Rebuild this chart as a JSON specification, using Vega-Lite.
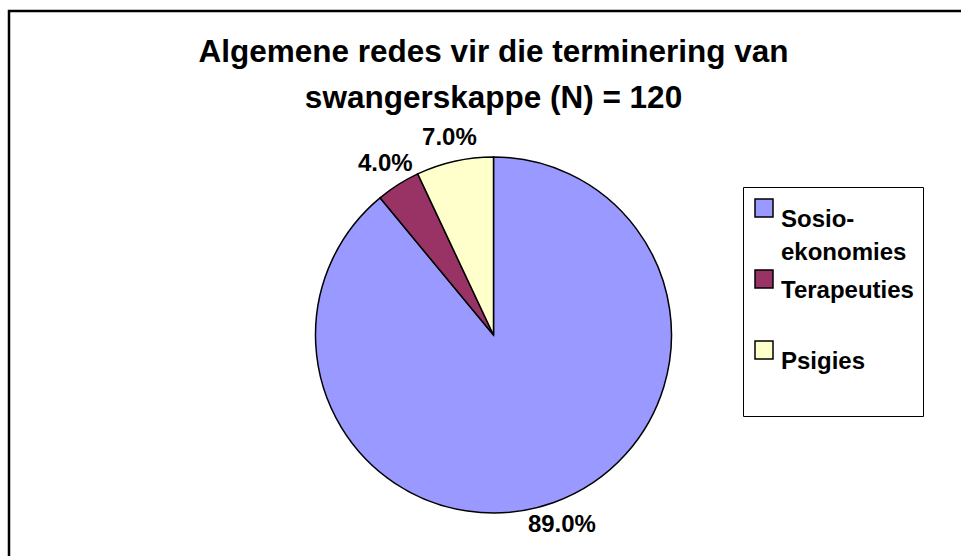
{
  "$schema": "https://vega.github.io/schema/vega-lite/v6.json",
  "autosize": {"type": "fit", "contains": "padding"},
  "width": 965,
  "height": 556,
  "padding": {"left": 7, "top": 9, "right": -15, "bottom": -105},
  "background": "white",
  "config": {
    "view": {"stroke": null},
    "font": "Liberation Sans",
    "style": {"guide-label": {"lineHeight": 33}}
  },
  "title": {
    "text": ["Algemene redes vir die terminering van", "swangerskappe (N) = 120"],
    "font": "Liberation Sans",
    "fontSize": 31.5,
    "fontWeight": "bold",
    "color": "black",
    "lineHeight": 46,
    "anchor": "middle",
    "offset": -105
  },
  "data": {
    "values": [
      {"reason": "Sosio-ekonomies", "pct": 0.89, "ord": 1},
      {"reason": "Terapeuties", "pct": 0.04, "ord": 2},
      {"reason": "Psigies", "pct": 0.07, "ord": 3}
    ]
  },
  "layer": [
    {
      "data": {"values": [{"frame": "border"}]},
      "mark": {"type": "rect", "fill": null, "fillOpacity": 0, "stroke": "black", "strokeWidth": 2.5, "strokeDash": [952, 1664, 700]},
      "encoding": {}
    },
    {
      "mark": {"type": "arc", "outerRadius": 178, "stroke": "black", "strokeWidth": 1.5},
      "encoding": {
        "theta": {"field": "pct", "type": "quantitative", "stack": true},
        "order": {"field": "ord", "type": "quantitative"},
        "color": {
          "field": "reason",
          "type": "nominal",
          "scale": {
            "domain": ["Sosio-ekonomies", "Terapeuties", "Psigies"],
            "range": ["#9999FF", "#993366", "#FFFFCC"]
          },
          "legend": {
            "title": null,
            "orient": "none",
            "legendX": 734,
            "legendY": 176,
            "direction": "vertical",
            "strokeColor": "black",
            "fillColor": "white",
            "padding": 9,
            "symbolType": "square",
            "symbolSize": 324,
            "symbolStrokeColor": "black",
            "symbolStrokeWidth": 1.5,
            "symbolOpacity": 1,
            "labelFont": "Liberation Sans",
            "labelFontSize": 24,
            "labelFontWeight": "bold",
            "labelColor": "black",
            "labelBaseline": "top",
            "labelOffset": 5,
            "labelLimit": 0,
            "rowPadding": 2,
            "labelExpr": "datum.label == 'Sosio-ekonomies' ? ['Sosio-', 'ekonomies'] : [datum.label, '']"
          }
        }
      }
    },
    {
      "mark": {"type": "text", "radius": 202, "font": "Liberation Sans", "fontSize": 24, "fontWeight": "bold", "color": "black"},
      "encoding": {
        "theta": {"field": "pct", "type": "quantitative", "stack": true},
        "order": {"field": "ord", "type": "quantitative"},
        "detail": {"field": "reason", "type": "nominal"},
        "text": {"field": "pct", "type": "quantitative", "format": ".1%"}
      }
    }
  ]
}
